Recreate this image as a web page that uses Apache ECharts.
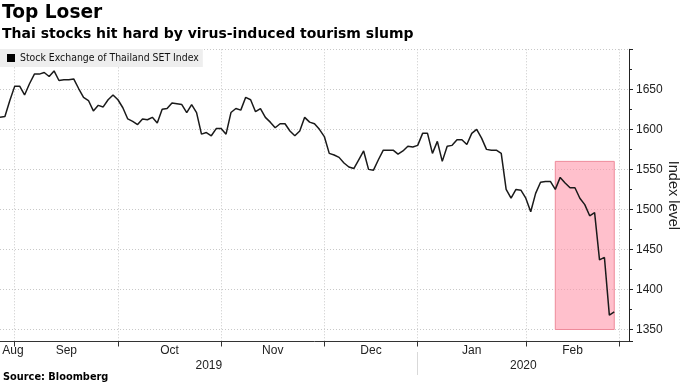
<!DOCTYPE html>
<html><head><meta charset="utf-8">
<script src="https://cdn.jsdelivr.net/npm/echarts@6/dist/echarts.min.js"></script>
<style>html,body{margin:0;padding:0;background:#fff}#c{width:680px;height:383px}</style>
</head><body><div id="c"></div>
<script>
// ---- data ----
const categories = [
 '2019-08-28','2019-08-29','2019-08-30',
 '2019-09-02','2019-09-03','2019-09-04','2019-09-05','2019-09-06','2019-09-09','2019-09-10','2019-09-11','2019-09-12','2019-09-13',
 '2019-09-16','2019-09-17','2019-09-18','2019-09-19','2019-09-20','2019-09-23','2019-09-24','2019-09-25','2019-09-26','2019-09-27','2019-09-30',
 '2019-10-01','2019-10-02','2019-10-03','2019-10-04','2019-10-07','2019-10-08','2019-10-09','2019-10-10','2019-10-11','2019-10-15','2019-10-16',
 '2019-10-17','2019-10-18','2019-10-21','2019-10-22','2019-10-24','2019-10-25','2019-10-28','2019-10-29','2019-10-30','2019-10-31',
 '2019-11-01','2019-11-04','2019-11-05','2019-11-06','2019-11-07','2019-11-08','2019-11-11','2019-11-12','2019-11-13','2019-11-14','2019-11-15',
 '2019-11-18','2019-11-19','2019-11-20','2019-11-21','2019-11-22','2019-11-25','2019-11-26','2019-11-27','2019-11-28','2019-11-29',
 '2019-12-02','2019-12-03','2019-12-04','2019-12-06','2019-12-09','2019-12-11','2019-12-12','2019-12-13','2019-12-16','2019-12-17',
 '2019-12-18','2019-12-19','2019-12-20','2019-12-23','2019-12-24','2019-12-25','2019-12-26','2019-12-27','2019-12-30',
 '2020-01-02','2020-01-03','2020-01-06','2020-01-07','2020-01-08','2020-01-09','2020-01-10','2020-01-13','2020-01-14','2020-01-15','2020-01-16',
 '2020-01-17','2020-01-20','2020-01-21','2020-01-22','2020-01-23','2020-01-24','2020-01-27','2020-01-28','2020-01-29','2020-01-30','2020-01-31',
 '2020-02-03','2020-02-04','2020-02-05','2020-02-06','2020-02-07','2020-02-11','2020-02-12','2020-02-13','2020-02-14','2020-02-17',
 '2020-02-18','2020-02-19','2020-02-20','2020-02-21','2020-02-24','2020-02-25','2020-02-26','2020-02-27','2020-02-28',
 '2020-03-02','2020-03-03','2020-03-04'
];
const setIndex = [
 1615,1616,1636,
 1654,1654,1643,1657,1669,1669,1671,1666,1673,1661,1662,1662,1663,1651,1640,1636,1623,1630,1628,1637,1643,
 1637,1627,1613,1610,1606,1613,1612,1615,1608,1625,1626,1633,1632,1631,1621,1631,1621,1594,1596,1592,1601,
 1601,1594,1621,1626,1624,1640,1637,1622,1626,1615,1609,1602,1607,1607,1598,1592,1598,1615,1609,1607,1600,
 1591,1570,1568,1565,1558,1553,1551,1562,1573,1550,1549,1562,1574,1574,1574,1569,1573,1579,1578,
 1580,1595,1595,1570,1585,1560,1579,1580,1587,1587,1581,1595,1600,1589,1575,1574,1574,1570,1525,1514,1525,1524,
 1514,1497,1520,1534,1535,1535,1525,1540,1533,1527,1527,1514,1506,1492,1496,1437,1440,1368,1372
];
const monthNames = ['Aug','Sep','Oct','Nov','Dec','Jan','Feb'];
const yearNames = ['2019','2020'];
const seriesName = 'Stock Exchange of Thailand SET Index';
const highlightFrom = '2020-02-12', highlightTo = '2020-02-28';
const highlightLow = 1350, highlightHigh = 1560;
const yMin = 1335, yMax = 1700, yStep = 50;

// ---- layout ----
const W = 680, GL = 0, GR = 51, GT = 49.3, GB = 41.5;
const step = (W - GL - GR) / (categories.length - 1);
const FONT = "'Liberation Sans', Arial, sans-serif";
const BFONT = "'DejaVu Sans', Verdana, sans-serif";
const NFONT = "'DejaVu Sans Condensed', 'DejaVu Sans', sans-serif";

// month / year boundaries derived from categories
const monthStarts = [], yearStarts = [];
categories.forEach((d, i) => {
  if (i === 0 || d.slice(0, 7) !== categories[i - 1].slice(0, 7)) monthStarts.push(i);
  if (i === 0 || d.slice(0, 4) !== categories[i - 1].slice(0, 4)) yearStarts.push(i);
});
const monthTickSet = new Set(monthStarts.slice(1));
const yearTickSet = new Set(yearStarts.slice(1));

function buildLabels(names, starts, endIdx, fontSize, halfWidth) {
  const map = {}, rich = {};
  names.forEach((n, k) => {
    const s = starts[k], e = (k + 1 < starts.length) ? starts[k + 1] : endIdx;
    let c = (s + e) / 2;
    const minC = (halfWidth + 2) / step;
    if (c < minC) c = minC;
    const idx = Math.floor(c);
    const pad = (c - idx) * step * 2;
    const key = 'p' + k;
    rich[key] = { padding: [0, 0, 0, pad], fontSize: fontSize, fontFamily: FONT, color: '#222' };
    map[idx] = '{' + key + '|' + n + '}';
  });
  return { map, rich };
}
const mLab = buildLabels(monthNames, monthStarts, categories.length - 1, 12, 11);
const yLab = buildLabels(yearNames, yearStarts, categories.length - 1, 12, 14);

const chart = echarts.init(document.getElementById('c'), null, { renderer: 'canvas' });
chart.setOption({
  animation: false,
  backgroundColor: '#fff',
  title: [
    { text: 'Top Loser', left: 2, top: 4, padding: 0,
      textStyle: { fontFamily: BFONT, fontWeight: 'bold', fontSize: 18.6, color: '#000' } },
    { text: 'Thai stocks hit hard by virus-induced tourism slump', left: 2, top: 27, padding: 0,
      textStyle: { fontFamily: BFONT, fontWeight: 'bold', fontSize: 14, color: '#000' } },
    { text: 'Source: Bloomberg', left: 3, top: 372, padding: 0,
      textStyle: { fontFamily: BFONT, fontWeight: 'bold', fontSize: 9.8, color: '#000' } }
  ],
  legend: {
    left: 0, top: 49, backgroundColor: '#eeeeee', padding: [4, 4, 4, 7],
    itemWidth: 8, itemHeight: 8, icon: 'rect',
    textStyle: { fontFamily: NFONT, fontSize: 10.4, color: '#111' },
    data: [{ name: seriesName, itemStyle: { color: '#000' } }]
  },
  grid: { left: GL, right: GR, top: GT, bottom: GB, containLabel: false, outerBoundsMode: 'none' },
  xAxis: [
    {
      type: 'category', data: categories, boundaryGap: false, position: 'bottom',
      axisLine: { show: true, lineStyle: { color: '#333', width: 1 } },
      axisTick: { show: true, length: 5, interval: (i) => monthTickSet.has(i), lineStyle: { color: '#333' } },
      axisLabel: { interval: (i) => mLab.map[i] !== undefined, formatter: (v, i) => mLab.map[i] || '',
        rich: mLab.rich, margin: 3, fontSize: 12, fontFamily: FONT, color: '#222' },
      splitLine: { show: true, interval: (i) => monthTickSet.has(i), lineStyle: { type: [1, 2], color: '#c8c8c8' } }
    },
    {
      type: 'category', data: categories, boundaryGap: false, position: 'bottom', offset: 10.5,
      axisLine: { show: false },
      axisTick: { show: true, length: 23, interval: (i) => yearTickSet.has(i), lineStyle: { color: '#d9d9d9' } },
      axisLabel: { interval: (i) => yLab.map[i] !== undefined, formatter: (v, i) => yLab.map[i] || '',
        rich: yLab.rich, margin: 8, fontSize: 12, fontFamily: FONT, color: '#222' },
      splitLine: { show: false }
    }
  ],
  yAxis: {
    type: 'value', position: 'right', min: yMin, max: yMax, splitNumber: 7, minInterval: yStep, maxInterval: yStep,
    axisLine: { show: true, lineStyle: { color: '#222' } },
    axisTick: { show: true, length: 4, lineStyle: { color: '#222' } },
    minorTick: { show: true, splitNumber: 2, length: 3, lineStyle: { color: '#222' } },
    axisLabel: { showMinLabel: false, showMaxLabel: false, margin: 7, fontSize: 12, fontFamily: FONT, color: '#222',
      formatter: (v) => (v % yStep === 0 && v < yMax) ? String(v) : '' },
    splitLine: { show: true, lineStyle: { type: [1, 2], color: '#c8c8c8' } },
    name: 'Index level', nameLocation: 'middle', nameRotate: -90, nameGap: 36, nameMoveOverlap: false,
    nameTextStyle: { fontSize: 14.5, fontFamily: FONT, color: '#222' }
  },
  series: [{
    type: 'line', name: seriesName, data: setIndex, xAxisIndex: 0,
    symbol: 'none', showSymbol: false,
    lineStyle: { color: '#1a1a1a', width: 1.5 }, itemStyle: { color: '#000' },
    markArea: {
      silent: true,
      itemStyle: { color: 'rgba(255,150,170,0.6)', borderColor: '#ee8a9a', borderWidth: 1 },
      data: [[{ xAxis: highlightFrom, yAxis: highlightLow }, { xAxis: highlightTo, yAxis: highlightHigh }]]
    }
  }]
});
</script></body></html>
